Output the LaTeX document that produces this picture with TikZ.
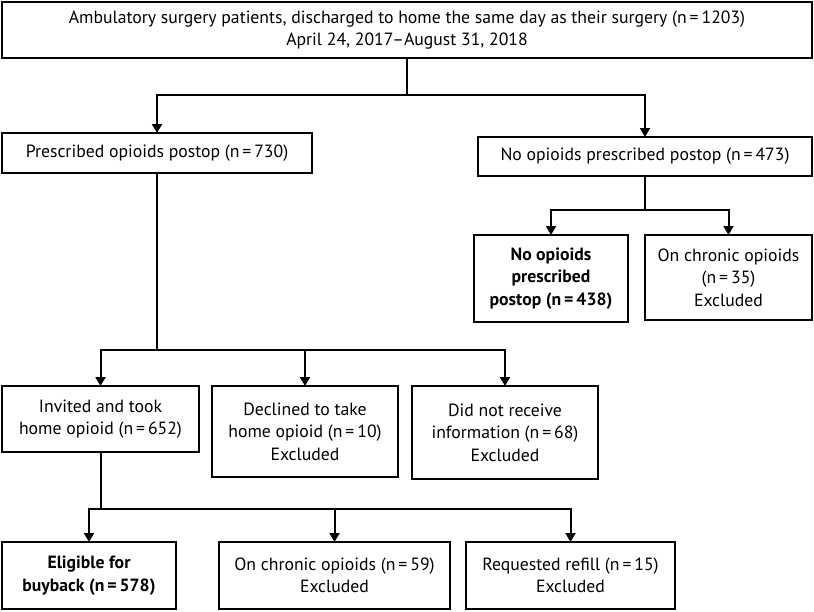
\documentclass[tikz,border=0pt]{standalone}
\usepackage{fontspec}
\setmainfont{PT Sans}
\usetikzlibrary{arrows.meta}

\begin{document}
\begin{tikzpicture}[x=1pt,y=-1pt,
  box/.style={draw,line width=2pt,rectangle,anchor=north west,outer sep=0pt,
    inner sep=0pt,align=center,font=\fontsize{17.7}{22.5}\selectfont},
  boldbox/.style={box,font=\fontsize{17.7}{22.5}\selectfont\bfseries},
  conn/.style={line width=2pt},
  arr/.style={conn,-{Triangle[length=9pt,width=10pt]}}]
\useasboundingbox (0,0) rectangle (814,611);

% boxes
\node[box,minimum width=810pt,minimum height=56pt] (top) at (2,2)
  {Ambulatory surgery patients, discharged to home the same day as their surgery (n\,=\,1203)\\
   April 24, 2017--August 31, 2018};
\node[box,minimum width=310pt,minimum height=40pt] (rx) at (2,133)
  {Prescribed opioids postop (n\,=\,730)};
\node[box,minimum width=334pt,minimum height=39pt] (norx) at (478,137)
  {No opioids prescribed postop (n\,=\,473)};
\node[boldbox,minimum width=154pt,minimum height=87pt] (noopi) at (474,235)
  {No opioids\\prescribed\\postop (n\,=\,438)};
\node[box,minimum width=167pt,minimum height=85pt] (chronA) at (645,235)
  {On chronic opioids\\(n\,=\,35)\\Excluded};
\node[box,minimum width=197pt,minimum height=66pt] (invited) at (2,386)
  {Invited and took\\home opioid (n\,=\,652)};
\node[box,minimum width=186pt,minimum height=91pt] (declined) at (212,386)
  {Declined to take\\home opioid (n\,=\,10)\\Excluded};
\node[box,minimum width=186pt,minimum height=93pt] (noinfo) at (412,386)
  {Did not receive\\information (n\,=\,68)\\Excluded};
\node[boldbox,minimum width=174pt,minimum height=67pt] (eligible) at (2,542)
  {Eligible for\\buyback (n\,=\,578)};
\node[box,minimum width=231pt,minimum height=67pt] (chronB) at (219,542)
  {On chronic opioids (n\,=\,59)\\Excluded};
\node[box,minimum width=209pt,minimum height=67pt] (refill) at (466,542)
  {Requested refill (n\,=\,15)\\Excluded};

% branch points
\coordinate (jA) at (top.south |- 0,95);
\coordinate (jB) at (rx.south |- 0,350);
\coordinate (jC) at (norx.south |- 0,210);
\coordinate (jD) at (invited.south |- 0,509);

% connectors
\draw[conn] (top.south) -- (jA);
\draw[arr] (jA) -| (rx.north);
\draw[arr] (jA) -| (norx.north);

\draw[conn] (norx.south) -- (jC);
\draw[arr] (jC) -| (noopi.north);
\draw[arr] (jC) -| (chronA.north);

\draw[conn] (rx.south) -- (jB);
\draw[arr] (jB) -| (invited.north);
\draw[arr] (jB) -| (declined.north);
\draw[arr] (jB) -| (noinfo.north);

\draw[conn] (invited.south) -- (jD);
\draw[arr] (jD) -| (eligible.north);
\draw[arr] (jD) -| (chronB.north);
\draw[arr] (jD) -| (refill.north);
\end{tikzpicture}
\end{document}
